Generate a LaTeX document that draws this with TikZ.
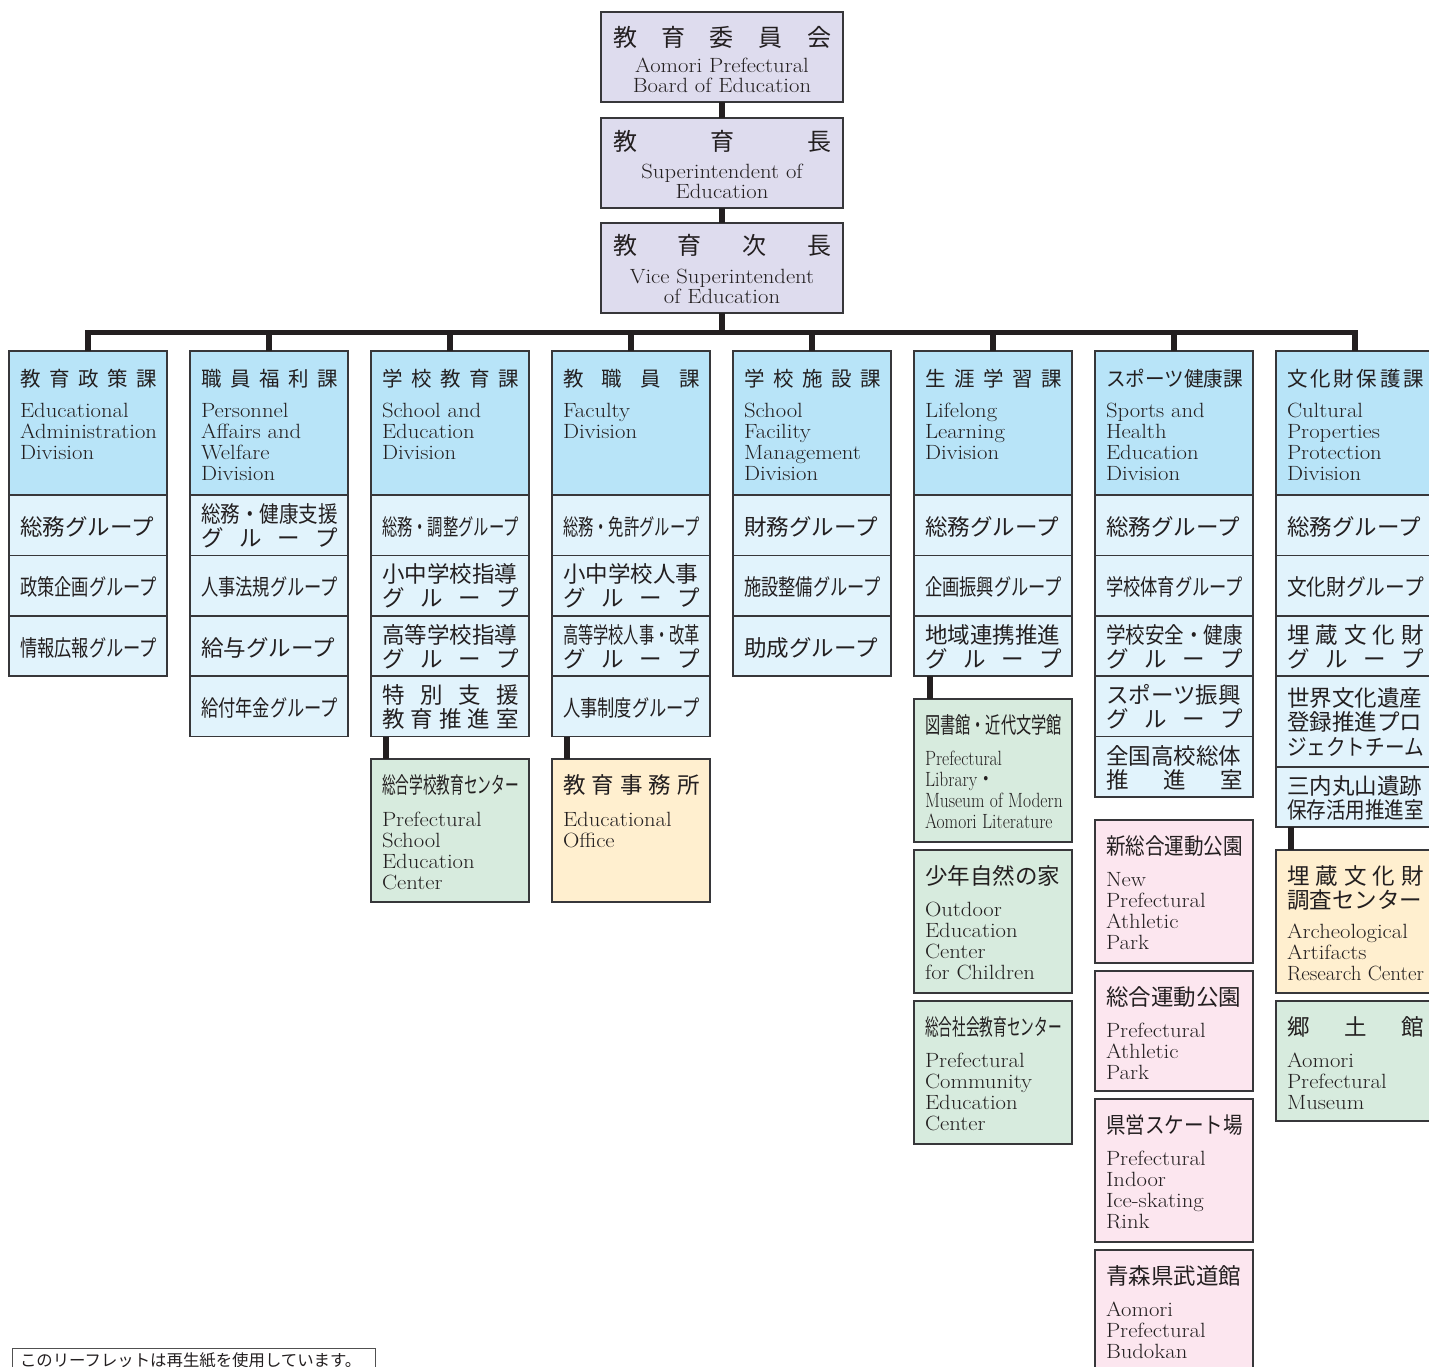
\documentclass[tikz,border=0pt]{standalone}
\usepackage{fontspec}
\usepackage{graphicx}
\newfontfamily\jp{Noto Sans CJK JP}
\usetikzlibrary{calc}
\definecolor{lav}{RGB}{222,220,238}
\definecolor{hblue}{RGB}{184,228,248}
\definecolor{rblue}{RGB}{225,243,252}
\definecolor{grnc}{RGB}{215,235,222}
\definecolor{orgc}{RGB}{255,239,207}
\definecolor{pnkc}{RGB}{252,230,239}
\definecolor{bordc}{RGB}{55,55,58}
\definecolor{connc}{RGB}{35,31,32}
\definecolor{txtc}{RGB}{35,31,32}
\definecolor{notec}{RGB}{80,80,80}
\newcommand\enf{\fontsize{20.6pt}{21pt}\selectfont}
\newcommand\ens[1]{\scalebox{1.1}[1]{\enf #1}}
\newcommand\jh{\jp\fontsize{20.5pt}{24pt}\selectfont}
\newcommand\jr{\jp\fontsize{22.5pt}{24pt}\selectfont}
\newcommand\jt{\jp\fontsize{24pt}{26pt}\selectfont}
\newcommand\spr[2][137pt]{\makebox[#1][s]{#2}}
\newsavebox\myfitbox
\newcommand\myfit[2][137pt]{\sbox\myfitbox{#2}\ifdim\wd\myfitbox>#1\relax\resizebox{#1}{\height}{\usebox\myfitbox}\else\usebox\myfitbox\fi}
\newcounter{tn}
\newcommand\putl[3]{\stepcounter{tn}\node[txt] (t\number\value{tn}) at ($(#1.north west)+(11,{#2})$) {#3};}
\newcommand\putc[3]{\stepcounter{tn}\node[txt,anchor=base] (t\number\value{tn}) at ($(#1.north)+(0,{#2})$) {#3};}
\newcommand\enl[3]{\foreach \s [count=\k] in {#3} {\putl{#1}{#2+21*(\k-1)}{\myfit{\ens{\s}}}}}
\newcommand\enc[3]{\foreach \s [count=\k] in {#3} {\putl{#1}{#2+21*(\k-1)}{\scalebox{0.85}[1]{\enf\s}}}}
\begin{document}
\begin{tikzpicture}[x=1pt,y=-1pt,
 bx/.style={draw=bordc,line width=1.1pt,anchor=north west,inner sep=0pt,outer sep=0pt},
 topb/.style={bx,fill=lav,minimum width=242pt,minimum height=90pt},
 hdr/.style={bx,fill=hblue,minimum width=158pt,minimum height=144pt},
 grp/.style={bx,fill=rblue,minimum width=158pt,minimum height=#1},
 grn/.style={bx,fill=grnc,minimum width=158pt,minimum height=#1},
 org/.style={bx,fill=orgc,minimum width=158pt,minimum height=#1},
 pnk/.style={bx,fill=pnkc,minimum width=158pt,minimum height=#1},
 conn/.style={draw=connc,line width=5.5pt},
 txt/.style={anchor=base west,inner sep=0pt,outer sep=0pt,text=txtc}]
\useasboundingbox (0,0) rectangle (1429,1366);
\fill[white] (0,0) rectangle (1429,1366);

% ---------- top ----------
\node[topb] (T1) at (601,12) {};
\node[topb] (T2) at (601,118) {};
\node[topb] (T3) at (601,223) {};
\coordinate (barL) at (88,332.5);
\coordinate (barR) at (1355,332.5);
\draw[conn] (T1.south) -- (T2.north);
\draw[conn] (T2.south) -- (T3.north);
\draw[conn] (T3.south) -- (T3.south |- barL);
\draw[conn,line cap=rect] (barL) -- (barR);

\node[txt] (T1j) at ($(T1.north west)+(12,34)$) {\jt\spr[218pt]{教\hfill 育\hfill 委\hfill 員\hfill 会}};
\putc{T1}{60}{\ens{Aomori Prefectural}}
\putc{T1}{80}{\ens{Board of Education}}
\node[txt] (T2j) at ($(T2.north west)+(12,32)$) {\jt\spr[218pt]{教\hfill 育\hfill 長}};
\putc{T2}{60}{\ens{Superintendent of}}
\putc{T2}{80}{\ens{Education}}
\node[txt] (T3j) at ($(T3.north west)+(12,31.5)$) {\jt\spr[218pt]{教\hfill 育\hfill 次\hfill 長}};
\putc{T3}{60}{\ens{Vice Superintendent}}
\putc{T3}{80.5}{\ens{of Education}}

% ---------- column 1 ----------
\node[hdr] (H1) at (9,351) {};
\node[grp=60.5pt] (R11) at (9,495) {};
\node[grp=60.5pt] (R12) at (9,555.5) {};
\node[grp=60pt] (R13) at (9,616) {};
\draw[conn] (H1.north) -- (H1.north |- barL);
\putl{H1}{35}{\jh\spr{教\hfill 育\hfill 政\hfill 策\hfill 課}}
\enl{H1}{66.5}{Educational,Administration,Division}
\putl{R11}{40}{\jr\myfit{総務グループ}}
\putl{R12}{40}{\jr\myfit{政策企画グループ}}
\putl{R13}{40}{\jr\myfit{情報広報グループ}}

% ---------- column 2 ----------
\node[hdr] (H2) at (190,351) {};
\node[grp=60.5pt] (R21) at (190,495) {};
\node[grp=60.5pt] (R22) at (190,555.5) {};
\node[grp=60pt] (R23) at (190,616) {};
\node[grp=60.5pt] (R24) at (190,676) {};
\draw[conn] (H2.north) -- (H2.north |- barL);
\putl{H2}{35}{\jh\spr{職\hfill 員\hfill 福\hfill 利\hfill 課}}
\enl{H2}{66.5}{Personnel,Affairs and,Welfare,Division}
\putl{R21}{27}{\jr\myfit{総務・健康支援}}
\putl{R21}{51}{\jr\spr{グ\hfill ル\hfill ー\hfill プ}}
\putl{R22}{40}{\jr\myfit{人事法規グループ}}
\putl{R23}{40}{\jr\myfit{給与グループ}}
\putl{R24}{40}{\jr\myfit{給付年金グループ}}

% ---------- column 3 ----------
\node[hdr] (H3) at (371,351) {};
\node[grp=60.5pt] (R31) at (371,495) {};
\node[grp=60.5pt] (R32) at (371,555.5) {};
\node[grp=60pt] (R33) at (371,616) {};
\node[grp=60.5pt] (R34) at (371,676) {};
\node[grn=143pt] (B3) at (371,759) {};
\draw[conn] (H3.north) -- (H3.north |- barL);
\draw[conn] ($(R34.south west)+(15,0)$) -- ($(B3.north west)+(15,0)$);
\putl{H3}{35}{\jh\spr{学\hfill 校\hfill 教\hfill 育\hfill 課}}
\enl{H3}{66.5}{School and,Education,Division}
\putl{R31}{40}{\jr\myfit{総務・調整グループ}}
\putl{R32}{27}{\jr\myfit{小中学校指導}}
\putl{R32}{51}{\jr\spr{グ\hfill ル\hfill ー\hfill プ}}
\putl{R33}{27}{\jr\myfit{高等学校指導}}
\putl{R33}{51}{\jr\spr{グ\hfill ル\hfill ー\hfill プ}}
\putl{R34}{27}{\jr\spr{特\hfill 別\hfill 支\hfill 援}}
\putl{R34}{51}{\jr\spr{教\hfill 育\hfill 推\hfill 進\hfill 室}}
\putl{B3}{34.5}{\jr\myfit{総合学校教育センター}}
\enl{B3}{67}{Prefectural,School,Education,Center}

% ---------- column 4 ----------
\node[hdr] (H4) at (552,351) {};
\node[grp=60.5pt] (R41) at (552,495) {};
\node[grp=60.5pt] (R42) at (552,555.5) {};
\node[grp=60pt] (R43) at (552,616) {};
\node[grp=60.5pt] (R44) at (552,676) {};
\node[org=143pt] (B4) at (552,759) {};
\draw[conn] (H4.north) -- (H4.north |- barL);
\draw[conn] ($(R44.south west)+(15,0)$) -- ($(B4.north west)+(15,0)$);
\putl{H4}{35}{\jh\spr{教\hfill 職\hfill 員\hfill 課}}
\enl{H4}{66.5}{Faculty,Division}
\putl{R41}{40}{\jr\myfit{総務・免許グループ}}
\putl{R42}{27}{\jr\myfit{小中学校人事}}
\putl{R42}{51}{\jr\spr{グ\hfill ル\hfill ー\hfill プ}}
\putl{R43}{27}{\jr\myfit{高等学校人事・改革}}
\putl{R43}{51}{\jr\spr{グ\hfill ル\hfill ー\hfill プ}}
\putl{R44}{40}{\jr\myfit{人事制度グループ}}
\putl{B4}{34.5}{\jr\spr{教\hfill 育\hfill 事\hfill 務\hfill 所}}
\enl{B4}{67}{Educational,Office}

% ---------- column 5 ----------
\node[hdr] (H5) at (733,351) {};
\node[grp=60.5pt] (R51) at (733,495) {};
\node[grp=60.5pt] (R52) at (733,555.5) {};
\node[grp=60pt] (R53) at (733,616) {};
\draw[conn] (H5.north) -- (H5.north |- barL);
\putl{H5}{35}{\jh\spr{学\hfill 校\hfill 施\hfill 設\hfill 課}}
\enl{H5}{66.5}{School,Facility,Management,Division}
\putl{R51}{40}{\jr\myfit{財務グループ}}
\putl{R52}{40}{\jr\myfit{施設整備グループ}}
\putl{R53}{40}{\jr\myfit{助成グループ}}

% ---------- column 6 ----------
\node[hdr] (H6) at (914,351) {};
\node[grp=60.5pt] (R61) at (914,495) {};
\node[grp=60.5pt] (R62) at (914,555.5) {};
\node[grp=60pt] (R63) at (914,616) {};
\node[grn=143pt] (B61) at (914,699) {};
\node[grn=143pt] (B62) at (914,850) {};
\node[grn=143pt] (B63) at (914,1001) {};
\draw[conn] (H6.north) -- (H6.north |- barL);
\draw[conn] ($(R63.south west)+(16,0)$) -- ($(B61.north west)+(16,0)$);
\putl{H6}{35}{\jh\spr{生\hfill 涯\hfill 学\hfill 習\hfill 課}}
\enl{H6}{66.5}{Lifelong,Learning,Division}
\putl{R61}{40}{\jr\myfit{総務グループ}}
\putl{R62}{40}{\jr\myfit{企画振興グループ}}
\putl{R63}{27}{\jr\myfit{地域連携推進}}
\putl{R63}{51}{\jr\spr{グ\hfill ル\hfill ー\hfill プ}}
\putl{B61}{34.5}{\jr\myfit{図書館・近代文学館}}
\enc{B61}{66}{Prefectural,{Library{\jp ・}},Museum of Modern,Aomori Literature}
\putl{B62}{34.5}{\jr\myfit{少年自然の家}}
\enl{B62}{66.5}{Outdoor,Education,Center,for Children}
\putl{B63}{34.5}{\jr\myfit{総合社会教育センター}}
\enl{B63}{66.5}{Prefectural,Community,Education,Center}

% ---------- column 7 ----------
\node[hdr] (H7) at (1095,351) {};
\node[grp=60.5pt] (R71) at (1095,495) {};
\node[grp=60.5pt] (R72) at (1095,555.5) {};
\node[grp=60pt] (R73) at (1095,616) {};
\node[grp=60.5pt] (R74) at (1095,676) {};
\node[grp=60.5pt] (R75) at (1095,736.5) {};
\node[pnk=143pt] (P1) at (1095,820) {};
\node[pnk=120pt] (P2) at (1095,971) {};
\node[pnk=143pt] (P3) at (1095,1099) {};
\node[pnk=143pt] (P4) at (1095,1250) {};
\draw[conn] (H7.north) -- (H7.north |- barL);
\putl{H7}{35}{\jh\myfit{スポーツ健康課}}
\enl{H7}{66.5}{Sports and,Health,Education,Division}
\putl{R71}{40}{\jr\myfit{総務グループ}}
\putl{R72}{40}{\jr\myfit{学校体育グループ}}
\putl{R73}{27}{\jr\myfit{学校安全・健康}}
\putl{R73}{51}{\jr\spr{グ\hfill ル\hfill ー\hfill プ}}
\putl{R74}{27}{\jr\myfit{スポーツ振興}}
\putl{R74}{51}{\jr\spr{グ\hfill ル\hfill ー\hfill プ}}
\putl{R75}{27.5}{\jr\myfit{全国高校総体}}
\putl{R75}{51.5}{\jr\spr{推\hfill 進\hfill 室}}
\putl{P1}{34.5}{\jr\myfit{新総合運動公園}}
\enl{P1}{66.5}{New,Prefectural,Athletic,Park}
\putl{P2}{34.5}{\jr\myfit{総合運動公園}}
\enl{P2}{66.5}{Prefectural,Athletic,Park}
\putl{P3}{34.5}{\jr\myfit{県営スケート場}}
\enl{P3}{66.5}{Prefectural,Indoor,Ice-skating,Rink}
\putl{P4}{34.5}{\jr\myfit{青森県武道館}}
\enl{P4}{66.5}{Aomori,Prefectural,Budokan}

% ---------- column 8 ----------
\node[hdr] (H8) at (1276,351) {};
\node[grp=60.5pt] (R81) at (1276,495) {};
\node[grp=60.5pt] (R82) at (1276,555.5) {};
\node[grp=60pt] (R83) at (1276,616) {};
\node[grp=91pt] (R84) at (1276,676) {};
\node[grp=60pt] (R85) at (1276,767) {};
\node[org=143pt] (B81) at (1276,850) {};
\node[grn=120pt] (B82) at (1276,1001) {};
\draw[conn] (H8.north) -- (H8.north |- barL);
\draw[conn] ($(R85.south west)+(15,0)$) -- ($(B81.north west)+(15,0)$);
\putl{H8}{35}{\jh\spr{文\hfill 化\hfill 財\hfill 保\hfill 護\hfill 課}}
\enl{H8}{66.5}{Cultural,Properties,Protection,Division}
\putl{R81}{40}{\jr\myfit{総務グループ}}
\putl{R82}{40}{\jr\myfit{文化財グループ}}
\putl{R83}{27}{\jr\spr{埋\hfill 蔵\hfill 文\hfill 化\hfill 財}}
\putl{R83}{51}{\jr\spr{グ\hfill ル\hfill ー\hfill プ}}
\putl{R84}{30}{\jr\myfit{世界文化遺産}}
\putl{R84}{54.5}{\jr\myfit{登録推進プロ}}
\putl{R84}{79}{\jr\myfit{ジェクトチーム}}
\putl{R85}{27}{\jr\myfit{三内丸山遺跡}}
\putl{R85}{51}{\jr\myfit{保存活用推進室}}
\putl{B81}{34.5}{\jr\spr{埋\hfill 蔵\hfill 文\hfill 化\hfill 財}}
\putl{B81}{58.5}{\jr\myfit{調査センター}}
\enl{B81}{88}{Archeological,Artifacts,Research Center}
\putl{B82}{34.5}{\jr\spr{郷\hfill 土\hfill 館}}
\enl{B82}{66.5}{Aomori,Prefectural,Museum}

% ---------- note ----------
\node[bx,draw=notec,line width=0.9pt,fill=white,minimum width=363pt,minimum height=40pt] (note) at (12,1348) {};
\node[txt] (notet) at ($(note.north west)+(8,18.5)$) {\jp\fontsize{16.4pt}{18pt}\selectfont このリーフレットは再生紙を使用しています。};
\end{tikzpicture}
\end{document}
